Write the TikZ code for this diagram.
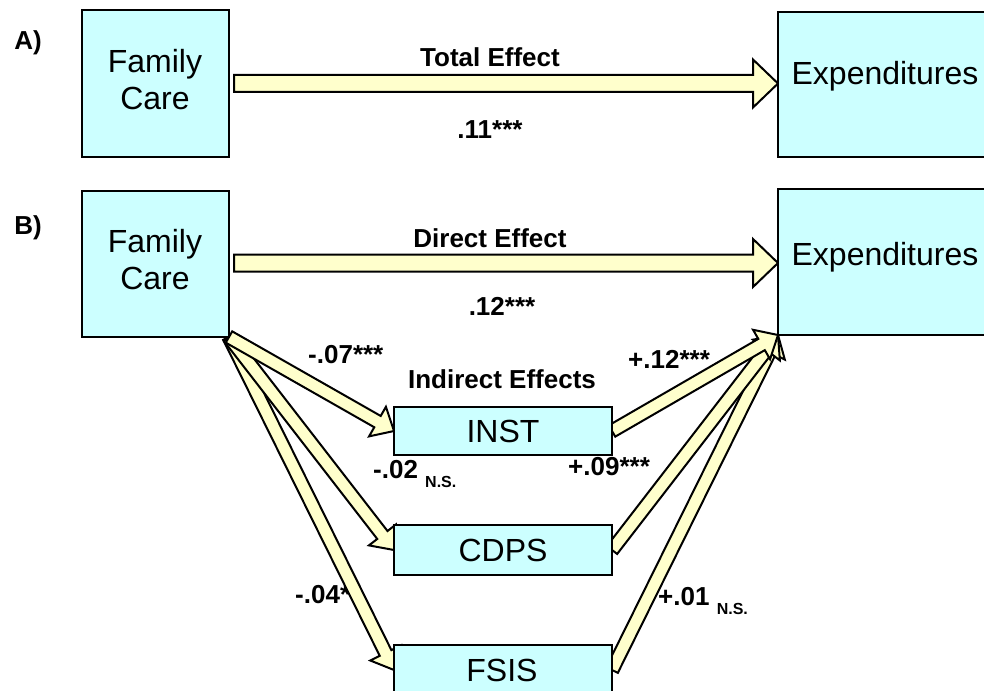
\documentclass[tikz,border=0pt]{standalone}
\usepackage{fontspec}
\setmainfont{Liberation Sans}
\usetikzlibrary{calc}
\definecolor{boxfill}{HTML}{CCFFFF}
\definecolor{arrfill}{HTML}{FFFFCC}
\tikzset{
  boxnode/.style={draw=black, line width=2pt, fill=boxfill, rectangle, inner sep=0pt},
  boxtext/.style={inner sep=0pt, font=\fontsize{32}{37}\selectfont, align=center},
  lbl/.style={inner sep=0pt, font=\bfseries\fontsize{26}{30}\selectfont},
  panel/.style={inner sep=0pt, font=\bfseries\fontsize{26}{30}\selectfont},
  arrstyle/.style={draw=black, fill=arrfill, line width=2pt, line join=miter},
}
\newcommand\ns{\raisebox{-9pt}{\fontsize{16}{18}\selectfont N.S.}}
% #1 start, #2 end, #3 shaft half width, #4 head half width, #5 head length
\newcommand\blockarr[5]{%
  \path ($(#2)!#5!(#1)$) coordinate (hb);
  \filldraw[arrstyle] ($(#1)!#3!90:(#2)$) -- ($(hb)!#3!90:(#2)$) -- ($(hb)!#4!90:(#2)$)
    -- (#2) -- ($(hb)!#4!-90:(#2)$) -- ($(hb)!#3!-90:(#2)$) -- ($(#1)!#3!-90:(#2)$) -- cycle;
}
\begin{document}
\begin{tikzpicture}[x=1pt,y=-1pt]
\useasboundingbox (0,0) rectangle (984,690);
\clip (0,0) rectangle (984,690);
\fill[white] (0,0) rectangle (984,690);

% boxes (positions)
\node[boxnode, minimum width=145pt, minimum height=145pt, anchor=north west] (fc1) at (82,10) {};
\node[boxnode, minimum width=214pt, minimum height=143pt, anchor=north west] (ex1) at (778,12) {};
\node[boxnode, minimum width=145pt, minimum height=144pt, anchor=north west] (fc2) at (82,191) {};
\node[boxnode, minimum width=214pt, minimum height=144pt, anchor=north west] (ex2) at (778,189) {};
\node[boxnode, minimum width=216pt, minimum height=46pt, anchor=north west] (inst) at (394,407) {};
\node[boxnode, minimum width=216pt, minimum height=48pt, anchor=north west] (cdps) at (394,525) {};
\node[boxnode, minimum width=216pt, minimum height=48pt, anchor=north west] (fsis) at (394,645) {};

% labels
\node[panel, anchor=base] (pa) at (28,50) {A)};
\node[panel, anchor=base] (pb) at (28,234) {B)};
\node[lbl, anchor=base] (te) at (490,67) {Total Effect};
\node[lbl, anchor=base] (tev) at (490,138) {.11***};
\node[lbl, anchor=base] (de) at (490,247) {Direct Effect};
\node[lbl, anchor=base] (dev) at (502,315) {.12***};
\node[lbl, anchor=base] (ie) at (502,388) {Indirect Effects};
\node[lbl, anchor=base west] (l07) at (308,363) {-.07***};
\node[lbl, anchor=base west] (l12) at (628,368) {+.12***};
\node[lbl, anchor=base west] (l02) at (373,478) {-.02 \ns};
\node[lbl, anchor=base west] (l09) at (568,475) {+.09***};
\node[lbl, anchor=base west] (l01) at (658,605) {+.01 \ns};
\node[lbl, anchor=base west] (l04) at (295,603) {-.04*};

% arrows
\coordinate (a1s) at ($(fc1.east)+(5,0)$);
\coordinate (a1e) at (ex1.west |- fc1.east);
\blockarr{a1s}{a1e}{8.5pt}{24pt}{25pt}
\coordinate (a2s) at ($(fc2.east)+(5,-1)$);
\coordinate (a2e) at ($(ex2.west |- fc2.east)+(0,-1)$);
\blockarr{a2s}{a2e}{8.5pt}{24pt}{25pt}

\blockarr{fc2.south east}{fsis.west}{6.5pt}{17pt}{19pt}
\blockarr{fc2.south east}{cdps.west}{6.5pt}{17pt}{19pt}
\blockarr{fc2.south east}{inst.west}{6.5pt}{17pt}{19pt}
\blockarr{fsis.east}{ex2.south west}{6.5pt}{17pt}{19pt}
\blockarr{cdps.east}{ex2.south west}{6.5pt}{17pt}{19pt}
\blockarr{inst.east}{ex2.south west}{6.5pt}{17pt}{19pt}

% redraw boxes on top of arrow ends
\foreach \b in {fc1,ex1,fc2,ex2,inst,cdps,fsis}{
  \draw[line width=2pt, fill=boxfill] (\b.north west) rectangle (\b.south east);
}

% box texts
\node[boxtext] (fc1t) at (155,80) {Family\\Care};
\node[boxtext, anchor=base] (ex1t) at (885,85) {Expenditures};
\node[boxtext] (fc2t) at (155,260) {Family\\Care};
\node[boxtext, anchor=base] (ex2t) at (885,265) {Expenditures};
\node[boxtext] (instt) at (inst) {INST};
\node[boxtext] (cdpst) at (cdps) {CDPS};
\node[boxtext, anchor=base] (fsist) at (502,681) {FSIS};
\end{tikzpicture}
\end{document}
